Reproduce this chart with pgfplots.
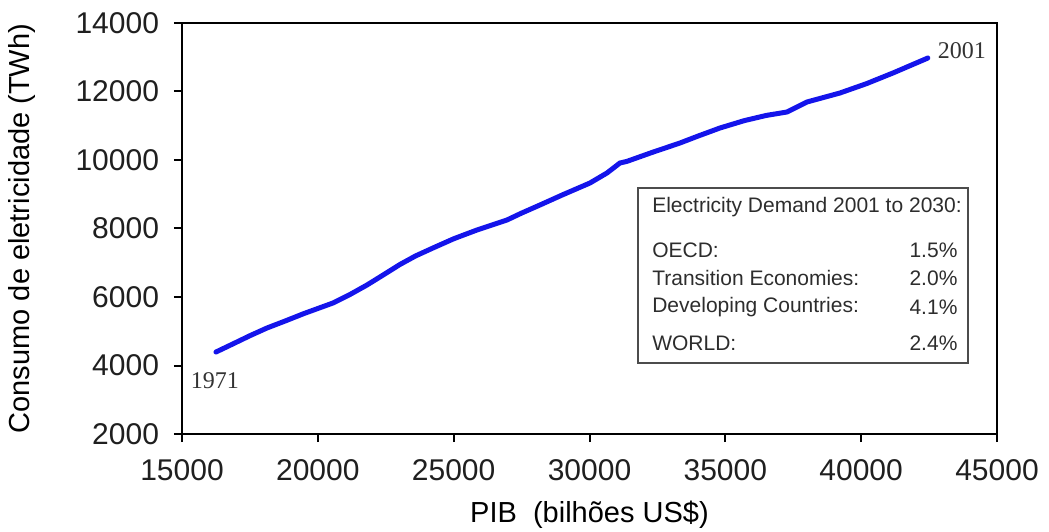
\documentclass[border=0pt]{standalone}
\usepackage{pgfplots}
\pgfplotsset{compat=1.18}
\usepackage{fontspec}
\setmainfont{Liberation Sans}
\newfontfamily\yrfont{Liberation Serif}
\definecolor{curve}{RGB}{20,20,235}
\definecolor{boxtext}{RGB}{45,45,45}
\begin{document}
\begin{tikzpicture}
\useasboundingbox (-91bp,-49bp) rectangle (433.5bp,217bp);
\begin{axis}[
  width=407.5bp, height=205.5bp, scale only axis,
  xmin=15000, xmax=45000, ymin=2000, ymax=14000,
  xtick={15000,20000,25000,30000,35000,40000,45000},
  ytick={2000,4000,6000,8000,10000,12000,14000},
  scaled ticks=false,
  /pgf/number format/1000 sep={},
  /pgf/number format/assume math mode=true,
  tick align=outside, tick pos=left, major tick length=4bp,
  axis line style={line width=1bp},
  every tick/.style={line width=1bp, black},
  tick label style={font=\fontsize{15bp}{17bp}\selectfont, text=black!88},
  yticklabel style={xshift=-4bp},
  xticklabel style={yshift=-5.5bp},
  xlabel={PIB\ \ (bilhões US\$)},
  ylabel={Consumo de eletricidade (TWh)},
  label style={font=\fontsize{14.5bp}{17bp}\selectfont, text=black},
  xlabel style={at={(axis description cs:0.5,0)}, anchor=center, yshift=-40.5bp},
  ylabel style={at={(axis description cs:0,0.5)}, anchor=center, rotate=0, yshift=80bp},
  clip=false,
]
\addplot[curve, line width=2.5bp, line join=round, line cap=round] coordinates {
(16251,4394) (16900,4640) (17500,4870) (18128,5095) (18800,5300) (19500,5520)
(20558,5825) (21200,6080) (21809,6350) (22400,6640) (23024,6950) (23600,7200)
(24238,7431) (25000,7700) (25857,7956) (26962,8248) (27500,8450) (28176,8686)
(29000,8980) (30016,9328) (30642,9620) (31120,9912) (31378,9960) (32300,10220)
(33329,10496) (34000,10700) (34801,10934) (35700,11150) (36500,11300) (37267,11401)
(38003,11693) (39218,11956) (40200,12230) (41169,12540) (42457,12978)
};
\node[font=\yrfont\fontsize{12bp}{14bp}\selectfont, text=black!80] at (axis cs:16214,3546) {1971};
\node[font=\yrfont\fontsize{12bp}{14bp}\selectfont, text=black!80] at (axis cs:43706,13182) {2001};
\draw[black!70, line width=0.9bp] (axis cs:31783,4073) rectangle (axis cs:43929,9182);
\begin{scope}[every node/.style={font=\fontsize{10.5bp}{12bp}\selectfont, text=boxtext, inner sep=0pt}]
\node[anchor=west] at (axis cs:32298,8627) {Electricity Demand 2001 to 2030:};
\node[anchor=west] at (axis cs:32298,7372) {OECD:};
\node[anchor=west] at (axis cs:32298,6554) {Transition Economies:};
\node[anchor=west] at (axis cs:32298,5707) {Developing Countries:};
\node[anchor=west] at (axis cs:32298,4656) {WORLD:};
\node[anchor=east] at (axis cs:43558,7372) {1.5\%};
\node[anchor=east] at (axis cs:43558,6554) {2.0\%};
\node[anchor=east] at (axis cs:43558,5707) {4.1\%};
\node[anchor=east] at (axis cs:43558,4656) {2.4\%};
\end{scope}
\end{axis}
\end{tikzpicture}
\end{document}
